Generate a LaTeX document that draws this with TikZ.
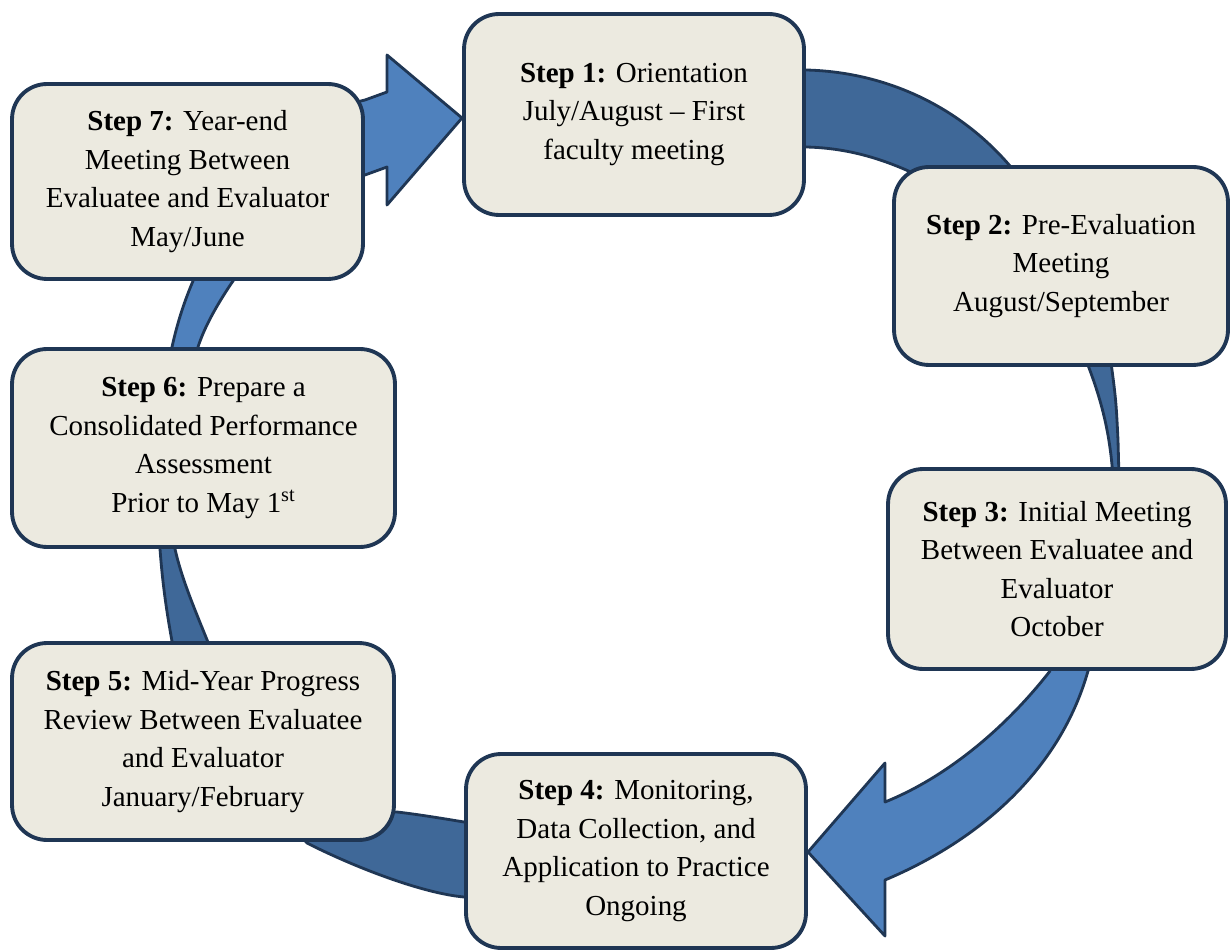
\documentclass[tikz,border=0pt]{standalone}
\usepackage{fontspec}
\setmainfont{Liberation Serif}
\definecolor{boxline}{HTML}{1F3654}
\definecolor{boxfill}{HTML}{ECEAE0}
\definecolor{lightarrow}{HTML}{4F81BD}
\definecolor{darkarrow}{HTML}{3F6898}
\begin{document}
\begin{tikzpicture}[x=0.02cm,y=-0.02cm]
\tikzstyle{stepbox} = [draw=boxline,line width=2.2pt,fill=boxfill,rounded corners=0.7cm,align=center,inner sep=0pt,font=\fontsize{16.5}{21.9}\selectfont]
\tikzstyle{lightone} = [fill=lightarrow,draw=boxline,line width=1.6pt,line join=round]
\tikzstyle{darkone} = [fill=darkarrow,draw=boxline,line width=1.6pt,line join=round]
\useasboundingbox (0,0) rectangle (1230,952);
  %arrows 1->2 and 2->3
  \draw[darkone] (780,70) -- (806,70) .. controls (890,72) and (965,110) .. (1015,172)
      -- (935,184) .. controls (890,160) and (850,148) .. (806,147) -- (780,147) -- cycle;
  \draw[darkone] (1084,355) .. controls (1100,395) and (1110,430) .. (1113,478)
      -- (1119,478) -- (1118,440) .. controls (1116,400) .. (1110,355) -- cycle;
  %arrow 3->4
  \draw[lightone] (1045,660) -- (1050,671) .. controls (1000,735) and (940,780) .. (885,802)
      -- (885,763) -- (808,852) -- (885,936) -- (885,880)
      .. controls (980,840) and (1060,770) .. (1088,671) -- (1092,660) -- cycle;
  %arrows 4->5 and 5->6
  \draw[darkone] (480,822) -- (464,822) .. controls (440,818) and (415,814) .. (397,812)
      -- (370,812) -- (300,835) -- (307,843) .. controls (350,865) and (420,893) .. (464,897)
      -- (480,897) -- cycle;
  \draw[darkone] (158,540) -- (160,549) .. controls (163,590) and (168,620) .. (174,652)
      -- (212,652) .. controls (195,610) and (182,580) .. (175,549) -- (174,540) -- cycle;
  %arrows 6->7 and 7->1
  \draw[lightone] (170,357) -- (172,347) .. controls (178,320) and (185,300) .. (193,281)
      -- (196,270) -- (240,270) -- (233,281) .. controls (220,300) and (205,325) .. (198,347)
      -- (196,357) -- cycle;
  \draw[lightone] (340,106) -- (365,100) -- (387,92) -- (387,55) -- (462,118)
      -- (387,205) -- (387,167) -- (365,175) -- (340,182) -- cycle;
  %steps
  \node[stepbox,minimum width=6.8cm,minimum height=4.02cm] (s1) at (634,114.5)
      {\textbf{Step 1:} Orientation\\July/August -- First\\faculty meeting};
  \node[stepbox,minimum width=6.68cm,minimum height=3.96cm] (s2) at (1061,266)
      {\textbf{Step 2:} Pre-Evaluation\\Meeting\\August/September};
  \node[stepbox,minimum width=6.76cm,minimum height=4cm] (s3) at (1057,569)
      {\textbf{Step 3:} Initial Meeting\\Between Evaluatee and\\Evaluator\\October};
  \node[stepbox,minimum width=6.8cm,minimum height=3.88cm] (s4) at (636,851)
      {\textbf{Step 4:} Monitoring,\\Data Collection, and\\Application to Practice\\Ongoing};
  \node[stepbox,minimum width=7.64cm,minimum height=3.94cm] (s5) at (203,741.5)
      {\textbf{Step 5:} Mid-Year Progress\\Review Between Evaluatee\\and Evaluator\\January/February};
  \node[stepbox,minimum width=7.66cm,minimum height=3.96cm] (s6) at (203.5,448)
      {\textbf{Step 6:} Prepare a\\Consolidated Performance\\Assessment\\Prior to May 1\textsuperscript{st}};
  \node[stepbox,minimum width=7.02cm,minimum height=3.9cm] (s7) at (187.5,181.5)
      {\textbf{Step 7:} Year-end\\Meeting Between\\Evaluatee and Evaluator\\May/June};
\end{tikzpicture}
\end{document}
